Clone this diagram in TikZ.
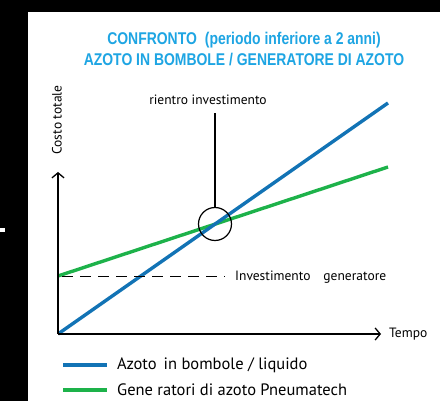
\documentclass[tikz,border=0pt]{standalone}
\usepackage{fontspec}
\setmainfont{PT Sans}
\newfontfamily\titlefont[FakeStretch=0.82]{Liberation Sans}
\usetikzlibrary{arrows.meta}
\definecolor{titlecyan}{HTML}{1EA5E3}
\definecolor{lineblue}{HTML}{1273B5}
\definecolor{linegreen}{HTML}{1DB24A}
\tikzset{
  axis/.style={line width=1.3pt, -{Straight Barb[length=5pt,width=12pt,line width=1.3pt]}},
  costline/.style={line width=3.4pt},
  lbl/.style={inner sep=0pt, anchor=west},
  small/.style={font=\fontsize{13.5}{15}\selectfont},
  legend/.style={font=\fontsize{16.5}{19}\selectfont},
}
\begin{document}
\begin{tikzpicture}[x=1pt,y=-1pt]
\useasboundingbox (0,0) rectangle (440,401);
\fill[black] (0,0) rectangle (440,401);
\fill[white] (28,12) rectangle (440,401);
\fill[white] (0,228.5) rectangle (5,232);
% title
\node[text=titlecyan, align=center, font=\titlefont\bfseries\fontsize{17}{21}\selectfont] (title) at (244,49) {CONFRONTO\hspace{8pt}(periodo inferiore a 2 anni)\\AZOTO IN BOMBOLE / GENERATORE DI AZOTO};
% coordinates
\coordinate (O) at (58,334);
\coordinate (ytop) at (58,172);
\coordinate (xend) at (381,334);
\coordinate (bend) at (388,103);
\coordinate (gstart) at (58,276);
\coordinate (gend) at (388,167);
\coordinate (dend) at (225,276);
\coordinate (vtop) at (215,113);
% lines
\draw[costline, linegreen] (gstart) -- (gend);
\draw[costline, lineblue] (O) -- (bend);
\draw[line width=0.9pt, dash pattern=on 11pt off 7pt, dash phase=-4pt] (gstart) -- (dend);
\draw[axis] (O) -- (ytop);
\draw[axis] (O) -- (xend);
% crossing
\node[draw, circle, line width=1.2pt, minimum size=33pt, inner sep=0pt] (cross) at (215,224) {};
\draw[line width=1.2pt] (cross.north) -- (vtop);
% labels
\node[small, inner sep=0pt] (rientro) at (208,100) {rientro investimento};
\node[small, inner sep=0pt, rotate=90] (costo) at (57,120) {Costo totale};
\node[lbl, small] (tempo) at (389,334) {Tempo};
\node[lbl, small] (invest) at (235,277) {Investimento\hspace{13pt}generatore};
% legend
\coordinate (lb1) at (63,365);
\coordinate (lb2) at (107,365);
\coordinate (lg1) at (63,390);
\coordinate (lg2) at (107,390);
\draw[costline, lineblue] (lb1) -- (lb2);
\draw[costline, linegreen] (lg1) -- (lg2);
\node[lbl, legend] (legb) at (117,365) {Azoto\hspace{7pt}in bombole / liquido};
\node[lbl, legend] (legg) at (117,390) {Gene ratori di azoto Pneumatech};
\end{tikzpicture}
\end{document}
